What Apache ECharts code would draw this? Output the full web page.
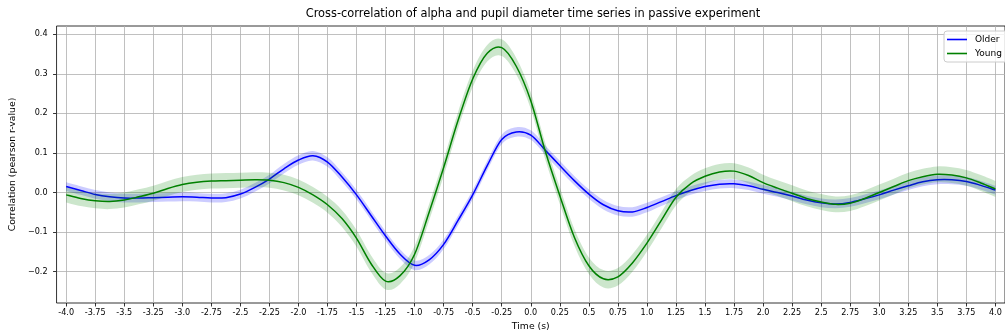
<!DOCTYPE html>
<html><head><meta charset="utf-8">
<script src="https://cdn.jsdelivr.net/npm/echarts@6/dist/echarts.min.js"></script>
<style>html,body{margin:0;padding:0;background:#fff}#c{width:1005px;height:336px}</style>
</head><body><div id="c"></div>
<script>
const times = [-4,-3.875,-3.75,-3.625,-3.5,-3.375,-3.25,-3.125,-3,-2.875,-2.75,-2.625,-2.5,-2.375,-2.25,-2.125,-2,-1.875,-1.75,-1.625,-1.5,-1.375,-1.25,-1.125,-1,-0.875,-0.75,-0.625,-0.5,-0.375,-0.25,-0.125,0,0.125,0.25,0.375,0.5,0.625,0.75,0.875,1,1.125,1.25,1.375,1.5,1.625,1.75,1.875,2,2.125,2.25,2.375,2.5,2.625,2.75,2.875,3,3.125,3.25,3.375,3.5,3.625,3.75,3.875,4];
const older = [0.015,0.005,-0.005,-0.011,-0.014,-0.014,-0.013,-0.012,-0.011,-0.012,-0.014,-0.013,-0.004,0.013,0.034,0.060,0.082,0.093,0.077,0.039,-0.006,-0.058,-0.110,-0.156,-0.184,-0.170,-0.131,-0.070,-0.006,0.068,0.134,0.153,0.145,0.107,0.068,0.030,-0.004,-0.031,-0.046,-0.049,-0.038,-0.023,-0.008,0.005,0.015,0.021,0.022,0.017,0.008,0.000,-0.009,-0.019,-0.026,-0.029,-0.025,-0.016,-0.006,0.006,0.017,0.027,0.032,0.032,0.028,0.018,0.006];
const olderErr = [0.011,0.011,0.011,0.011,0.011,0.011,0.011,0.011,0.011,0.011,0.011,0.011,0.011,0.011,0.011,0.012,0.012,0.012,0.012,0.012,0.012,0.012,0.012,0.012,0.012,0.012,0.012,0.012,0.012,0.012,0.012,0.012,0.012,0.012,0.012,0.012,0.012,0.012,0.012,0.012,0.012,0.011,0.011,0.011,0.011,0.011,0.011,0.011,0.011,0.011,0.011,0.011,0.011,0.011,0.011,0.011,0.011,0.011,0.011,0.011,0.011,0.011,0.011,0.011,0.011];
const young = [-0.006,-0.015,-0.021,-0.023,-0.019,-0.011,-0.002,0.010,0.020,0.026,0.029,0.030,0.031,0.032,0.031,0.025,0.013,-0.006,-0.031,-0.066,-0.116,-0.180,-0.224,-0.210,-0.156,-0.050,0.063,0.183,0.287,0.352,0.366,0.319,0.232,0.104,-0.008,-0.113,-0.185,-0.218,-0.213,-0.178,-0.128,-0.070,-0.012,0.022,0.041,0.052,0.054,0.043,0.025,0.011,-0.002,-0.015,-0.024,-0.030,-0.027,-0.015,0.000,0.015,0.030,0.040,0.046,0.044,0.037,0.024,0.009];
const youngErr = [0.019,0.019,0.019,0.019,0.019,0.019,0.019,0.019,0.019,0.019,0.019,0.019,0.019,0.019,0.019,0.020,0.020,0.020,0.020,0.021,0.021,0.021,0.021,0.021,0.021,0.021,0.021,0.021,0.021,0.021,0.021,0.021,0.021,0.021,0.021,0.021,0.021,0.022,0.022,0.022,0.021,0.021,0.021,0.020,0.020,0.020,0.020,0.020,0.020,0.020,0.020,0.020,0.020,0.020,0.020,0.020,0.020,0.020,0.020,0.020,0.020,0.020,0.020,0.020,0.020];
const xTickLabels = ['-4.0','-3.75','-3.5','-3.25','-3.0','-2.75','-2.5','-2.25','-2.0','-1.75','-1.5','-1.25','-1.0','-0.75','-0.5','-0.25','0.0','0.25','0.5','0.75','1.0','1.25','1.5','1.75','2.0','2.25','2.5','2.75','3.0','3.25','3.5','3.75','4.0'];
const yTickLabels = ['\u22120.2','\u22120.1','0.0','0.1','0.2','0.3','0.4'];
const seriesNames = ['Older','Young'];
const titleText = 'Cross-correlation of alpha and pupil diameter time series in passive experiment';
const xName = 'Time (s)';
const yName = 'Correlation (pearson r-value)';

const FONT = 'DejaVu Sans';
const xTickVals = xTickLabels.map(s => parseFloat(s));
const yTickVals = yTickLabels.map(s => parseFloat(s.replace('\u2212','-')));
function labelFor(vals, labels, v) {
  let bi = 0, bd = Infinity;
  vals.forEach((t, i) => { const d = Math.abs(t - v); if (d < bd) { bd = d; bi = i; } });
  return labels[bi];
}
// Catmull-Rom spline through screen points (rendering only)
function splinePath(p, start) {
  const n = p.length;
  let s = (start ? 'M' : 'L') + p[0][0] + ' ' + p[0][1];
  for (let i = 0; i < n - 1; i++) {
    const p0 = p[Math.max(i - 1, 0)], p1 = p[i], p2 = p[i + 1], p3 = p[Math.min(i + 2, n - 1)];
    const c1x = p1[0] + (p2[0] - p0[0]) / 6, c1y = p1[1] + (p2[1] - p0[1]) / 6;
    const c2x = p2[0] - (p3[0] - p1[0]) / 6, c2y = p2[1] - (p3[1] - p1[1]) / 6;
    s += ' C' + c1x + ' ' + c1y + ' ' + c2x + ' ' + c2y + ' ' + p2[0] + ' ' + p2[1];
  }
  return s;
}
function lineSeries(vals, color, name) {
  return {
    type: 'custom', name: name, silent: true, clip: true,
    itemStyle: { color: color },
    data: [[times[0], vals[0]]], encode: { x: 0, y: 1 },
    renderItem: function (params, api) {
      const pts = times.map((t, i) => api.coord([t, vals[i]]));
      return { type: 'path', shape: { pathData: splinePath(pts, true) },
        style: { fill: null, stroke: color, lineWidth: 1.5 } };
    }
  };
}
function bandSeries(vals, err, color, name) {
  return {
    type: 'custom', name: name, silent: true, clip: true,
    itemStyle: { color: color },
    data: [[times[0], vals[0]]], encode: { x: 0, y: 1 },
    renderItem: function (params, api) {
      const up = times.map((t, i) => api.coord([t, vals[i] + err[i]]));
      const lo = times.map((t, i) => api.coord([t, vals[i] - err[i]])).reverse();
      const d = splinePath(up, true) + ' ' + splinePath(lo, false) + ' Z';
      return { type: 'path', shape: { pathData: d }, style: { fill: color, stroke: null } };
    }
  };
}

const chart = echarts.init(document.getElementById('c'), null, { renderer: 'canvas' });
chart.setOption({
  animation: false,
  backgroundColor: '#ffffff',
  title: {
    text: titleText, left: 533, top: 9, padding: 0, textAlign: 'center',
    textStyle: { fontFamily: FONT, fontSize: 11.4, fontWeight: 'normal', color: '#000' }
  },
  legend: {
    data: seriesNames.map(n => ({ name: n, icon: 'rect' })),
    orient: 'vertical', left: 944, top: 31,
    padding: [3, 20, 3, 3], itemGap: 3, itemWidth: 20, itemHeight: 1.6,
    selectedMode: false,
    backgroundColor: 'rgba(255,255,255,0.8)', borderColor: '#cccccc', borderWidth: 1, borderRadius: 3,
    textStyle: { fontFamily: FONT, fontSize: 9, color: '#000', lineHeight: 11, padding: [0, 0, 0, 3] }
  },
  grid: {
    left: 55.3, right: -7.7, top: 26, bottom: 30,
    show: true, borderColor: '#000', borderWidth: 0.8, backgroundColor: 'transparent'
  },
  xAxis: {
    type: 'value', min: -4.0827, max: 4.0827,
    name: xName, nameLocation: 'middle', nameGap: 19,
    nameTextStyle: { fontFamily: FONT, fontSize: 9.3, color: '#000' },
    axisLine: { show: false, onZero: false },
    axisTick: { show: true, length: 3.5, lineStyle: { color: '#000', width: 0.8 }, customValues: xTickVals },
    axisLabel: { margin: 6, fontFamily: FONT, fontSize: 8.1, color: '#000', customValues: xTickVals,
      formatter: v => labelFor(xTickVals, xTickLabels, v) },
    splitLine: { show: true, lineStyle: { color: '#b0b0b0', width: 0.8 } }
  },
  yAxis: {
    type: 'value', min: -0.27925, max: 0.42075,
    name: yName, nameLocation: 'middle', nameGap: 33, nameRotate: 90,
    nameTextStyle: { fontFamily: FONT, fontSize: 9.3, color: '#000' },
    axisLine: { show: false, onZero: false },
    axisTick: { show: true, length: 3.5, lineStyle: { color: '#000', width: 0.8 }, customValues: yTickVals },
    axisLabel: { margin: 9, fontFamily: FONT, fontSize: 8.1, color: '#000', customValues: yTickVals,
      formatter: v => labelFor(yTickVals, yTickLabels, v) },
    splitLine: { show: true, lineStyle: { color: '#b0b0b0', width: 0.8 } }
  },
  series: [
    lineSeries(older, '#0000ff', seriesNames[0]),
    bandSeries(older, olderErr, 'rgba(0,0,255,0.2)', 'olderBand'),
    lineSeries(young, '#008000', seriesNames[1]),
    bandSeries(young, youngErr, 'rgba(0,128,0,0.2)', 'youngBand')
  ]
});
</script></body></html>
